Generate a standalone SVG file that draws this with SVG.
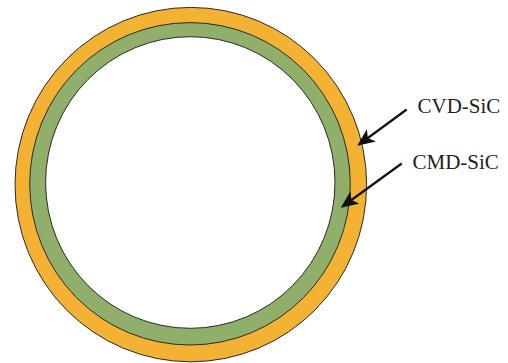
<svg xmlns="http://www.w3.org/2000/svg" width="508" height="363" viewBox="0 0 508 363">
<style>
.ring{stroke:#2a2a2a;stroke-width:1}
.lbl{font-family:"Liberation Serif","Times New Roman",serif;font-size:21px;fill:#231f20}
.arr{stroke:#111;stroke-width:2.2;fill:none;marker-end:url(#ah)}
</style>
<defs>
<marker id="ah" markerWidth="8" markerHeight="7" refX="7" refY="3.5" orient="auto" markerUnits="strokeWidth">
<path d="M0,0 L8,3.5 L0,7 L2,3.5 Z" fill="#111"/>
</marker>
</defs>
<rect width="508" height="363" fill="#fff"/>
<g id="tube">
<ellipse class="ring" cx="190.8" cy="184.6" rx="175.8" ry="177.2" fill="#F3B234"/>
<ellipse class="ring" cx="190" cy="183.8" rx="160.3" ry="161.2" fill="#8FAF6A"/>
<ellipse class="ring" cx="190.3" cy="182.5" rx="144.7" ry="145.8" fill="#fff"/>
</g>
<g id="connectors">
<line class="arr" x1="406.7" y1="109.5" x2="359" y2="144.5"/>
<line class="arr" x1="401.7" y1="163.5" x2="342.5" y2="206.5"/>
</g>
<g id="label-cvd"><text class="lbl" x="417.5" y="113">CVD-SiC</text></g>
<g id="label-cmd"><text class="lbl" x="412.5" y="169">CMD-SiC</text></g>
</svg>
